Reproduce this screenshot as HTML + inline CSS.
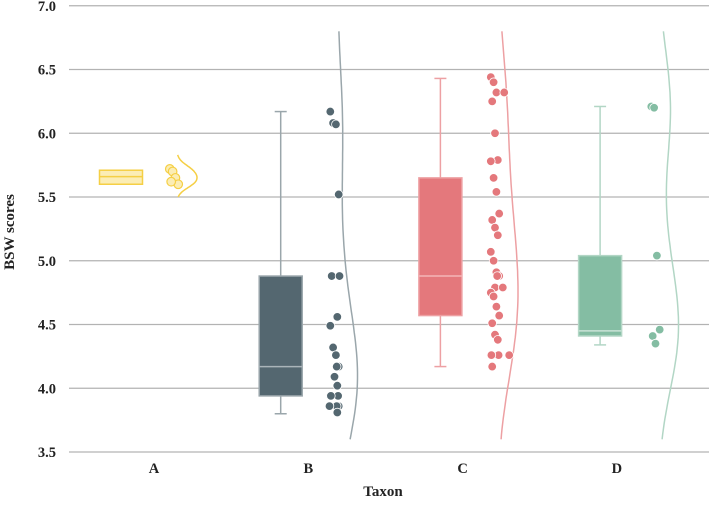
<!DOCTYPE html>
<html><head><meta charset="utf-8"><style>
body{margin:0;background:#fff;}
text{font-family:"Liberation Serif",serif;font-weight:bold;fill:#222;}
</style></head><body>
<svg id="chart" width="709" height="500" viewBox="0 0 709 500" xmlns="http://www.w3.org/2000/svg"></svg>
<script>
const categories=["A","B","C","D"];
const yTicks=[3.5,4.0,4.5,5.0,5.5,6.0,6.5,7.0];
const boxA=[5.60,5.66,5.71,5.60,5.71];
const boxB=[3.94,4.17,4.88,3.80,6.17];
const boxC=[4.57,4.88,5.65,4.17,6.43];
const boxD=[4.41,4.45,5.04,4.34,6.21];
const ptsA=[5.72,5.70,5.65,5.60,5.62];
const ptsB=[6.17,6.08,6.07,5.52,4.88,4.88,4.56,4.49,4.32,4.26,4.17,4.17,4.09,4.02,3.94,3.94,3.94,3.86,3.86,3.86,3.81];
const ptsC=[6.44,6.40,6.32,6.32,6.25,6.0,5.79,5.78,5.65,5.54,5.37,5.32,5.26,5.2,5.07,5.0,4.91,4.88,4.88,4.79,4.79,4.75,4.72,4.64,4.57,4.51,4.42,4.38,4.26,4.26,4.26,4.26,4.17];
const ptsD=[6.21,6.20,5.04,4.46,4.41,4.35];
const boxes=[boxA,boxB,boxC,boxD];
const pts=[ptsA,ptsB,ptsC,ptsD];
const col=["#f5cf45","#546770","#e4787c","#84bda3"];
const fillc=["#fbedb5","#546770","#e4787c","#84bda3"];
const lite=["#f5cf45","#9aa6ab","#eda0a3","#b2d6c5"];
const NS="http://www.w3.org/2000/svg";
const svg=document.getElementById('chart');
function y(v){return 452-(v-3.5)*127.5;}
function xl(i){return 154+i*154.3;}
function xb(i){return 121+i*159.7;}
function xp(i){return 174+i*160.5;}
function el(t,a,p){const e=document.createElementNS(NS,t);for(const k in a)e.setAttribute(k,a[k]);(p||svg).appendChild(e);return e;}
yTicks.forEach(t=>{
 const g=el('line',{x1:69,x2:709,y1:y(t),y2:y(t),stroke:'#b3b3b3','stroke-width':1.2});
 
 
 const tx=el('text',{x:56,y:y(t)+5,'text-anchor':'end','font-size':14.5});tx.textContent=t.toFixed(1);
 
 
});
categories.forEach((c,i)=>{
 const tx=el('text',{x:xl(i),y:473,'text-anchor':'middle','font-size':14.5});tx.textContent=c;
 
 
});
let t=el('text',{x:383,y:496,'text-anchor':'middle','font-size':15});t.textContent='Taxon';


t=el('text',{x:14,y:232,'text-anchor':'middle','font-size':15,transform:'rotate(-90 14 232)'});t.textContent='BSW scores';


categories.forEach((c,i)=>{
 const b=boxes[i],cx=xb(i),w=43;
 const wc=i==0?col[0]:lite[i];
 if(i>0){
  [[b[3],b[0]],[b[2],b[4]]].forEach(s=>{
   const l=el('line',{x1:cx,x2:cx,y1:y(s[0]),y2:y(s[1]),stroke:wc,'stroke-width':1.5});
   
   
  });
  [b[3],b[4]].forEach(v=>{
   const l=el('line',{x1:cx-6,x2:cx+6,y1:y(v),y2:y(v),stroke:wc,'stroke-width':1.5});
   
   
  });
 }
 const r=el('rect',{x:cx-w/2,y:y(b[2]),width:w,height:y(b[0])-y(b[2]),fill:fillc[i],stroke:i==0?col[0]:lite[i],'stroke-width':1.5});
 
 
 const m=el('line',{x1:cx-w/2,x2:cx+w/2,y1:y(b[1]),y2:y(b[1]),stroke:i==0?col[0]:(i==1?'#aab4b9':(i==2?'#f4b5b7':'#c9e3d6')),'stroke-width':1.5});
 
 
 const p=pts[i];
 const lo=i==0?5.5:3.6,hi=i==0?5.83:6.8,bw=i==0?0.05:0.45,maxW=i==0?20:20;
 const base=xp(i)+(i==0?3:3);
 const vs=[];for(let k=0;k<=80;k++){const v=lo+(hi-lo)*k/80;let d=0;p.forEach(q=>{d+=Math.exp(-0.5*((v-q)/bw)**2);});vs.push([v,d]);}
 const mx=Math.max(...vs.map(a=>a[1]));
 const dpath=vs.map((a,k)=>(k?'L':'M')+(base+a[1]/mx*maxW).toFixed(1)+' '+y(a[0]).toFixed(1)).join(' ');
 const dp=el('path',{d:dpath,fill:'none',stroke:lite[i],'stroke-width':1.5});
 
 
 const counts={};
 p.forEach((v,k)=>{
  const key=v.toFixed(2);counts[key]=(counts[key]||0)+1;
  const n=counts[key]-1;
  const off=((k*37)%7-3)*1.4+(n%2?1:-1)*Math.ceil(n/2)*5;
  const cc=el('circle',{cx:xp(i)+off,cy:y(v),r:4.3,fill:i==0?'#fbedb5':col[i],stroke:i==0?col[0]:'#ffffff','stroke-width':i==0?1.2:0.8});
  
  
 });
});
</script>
</body></html>
